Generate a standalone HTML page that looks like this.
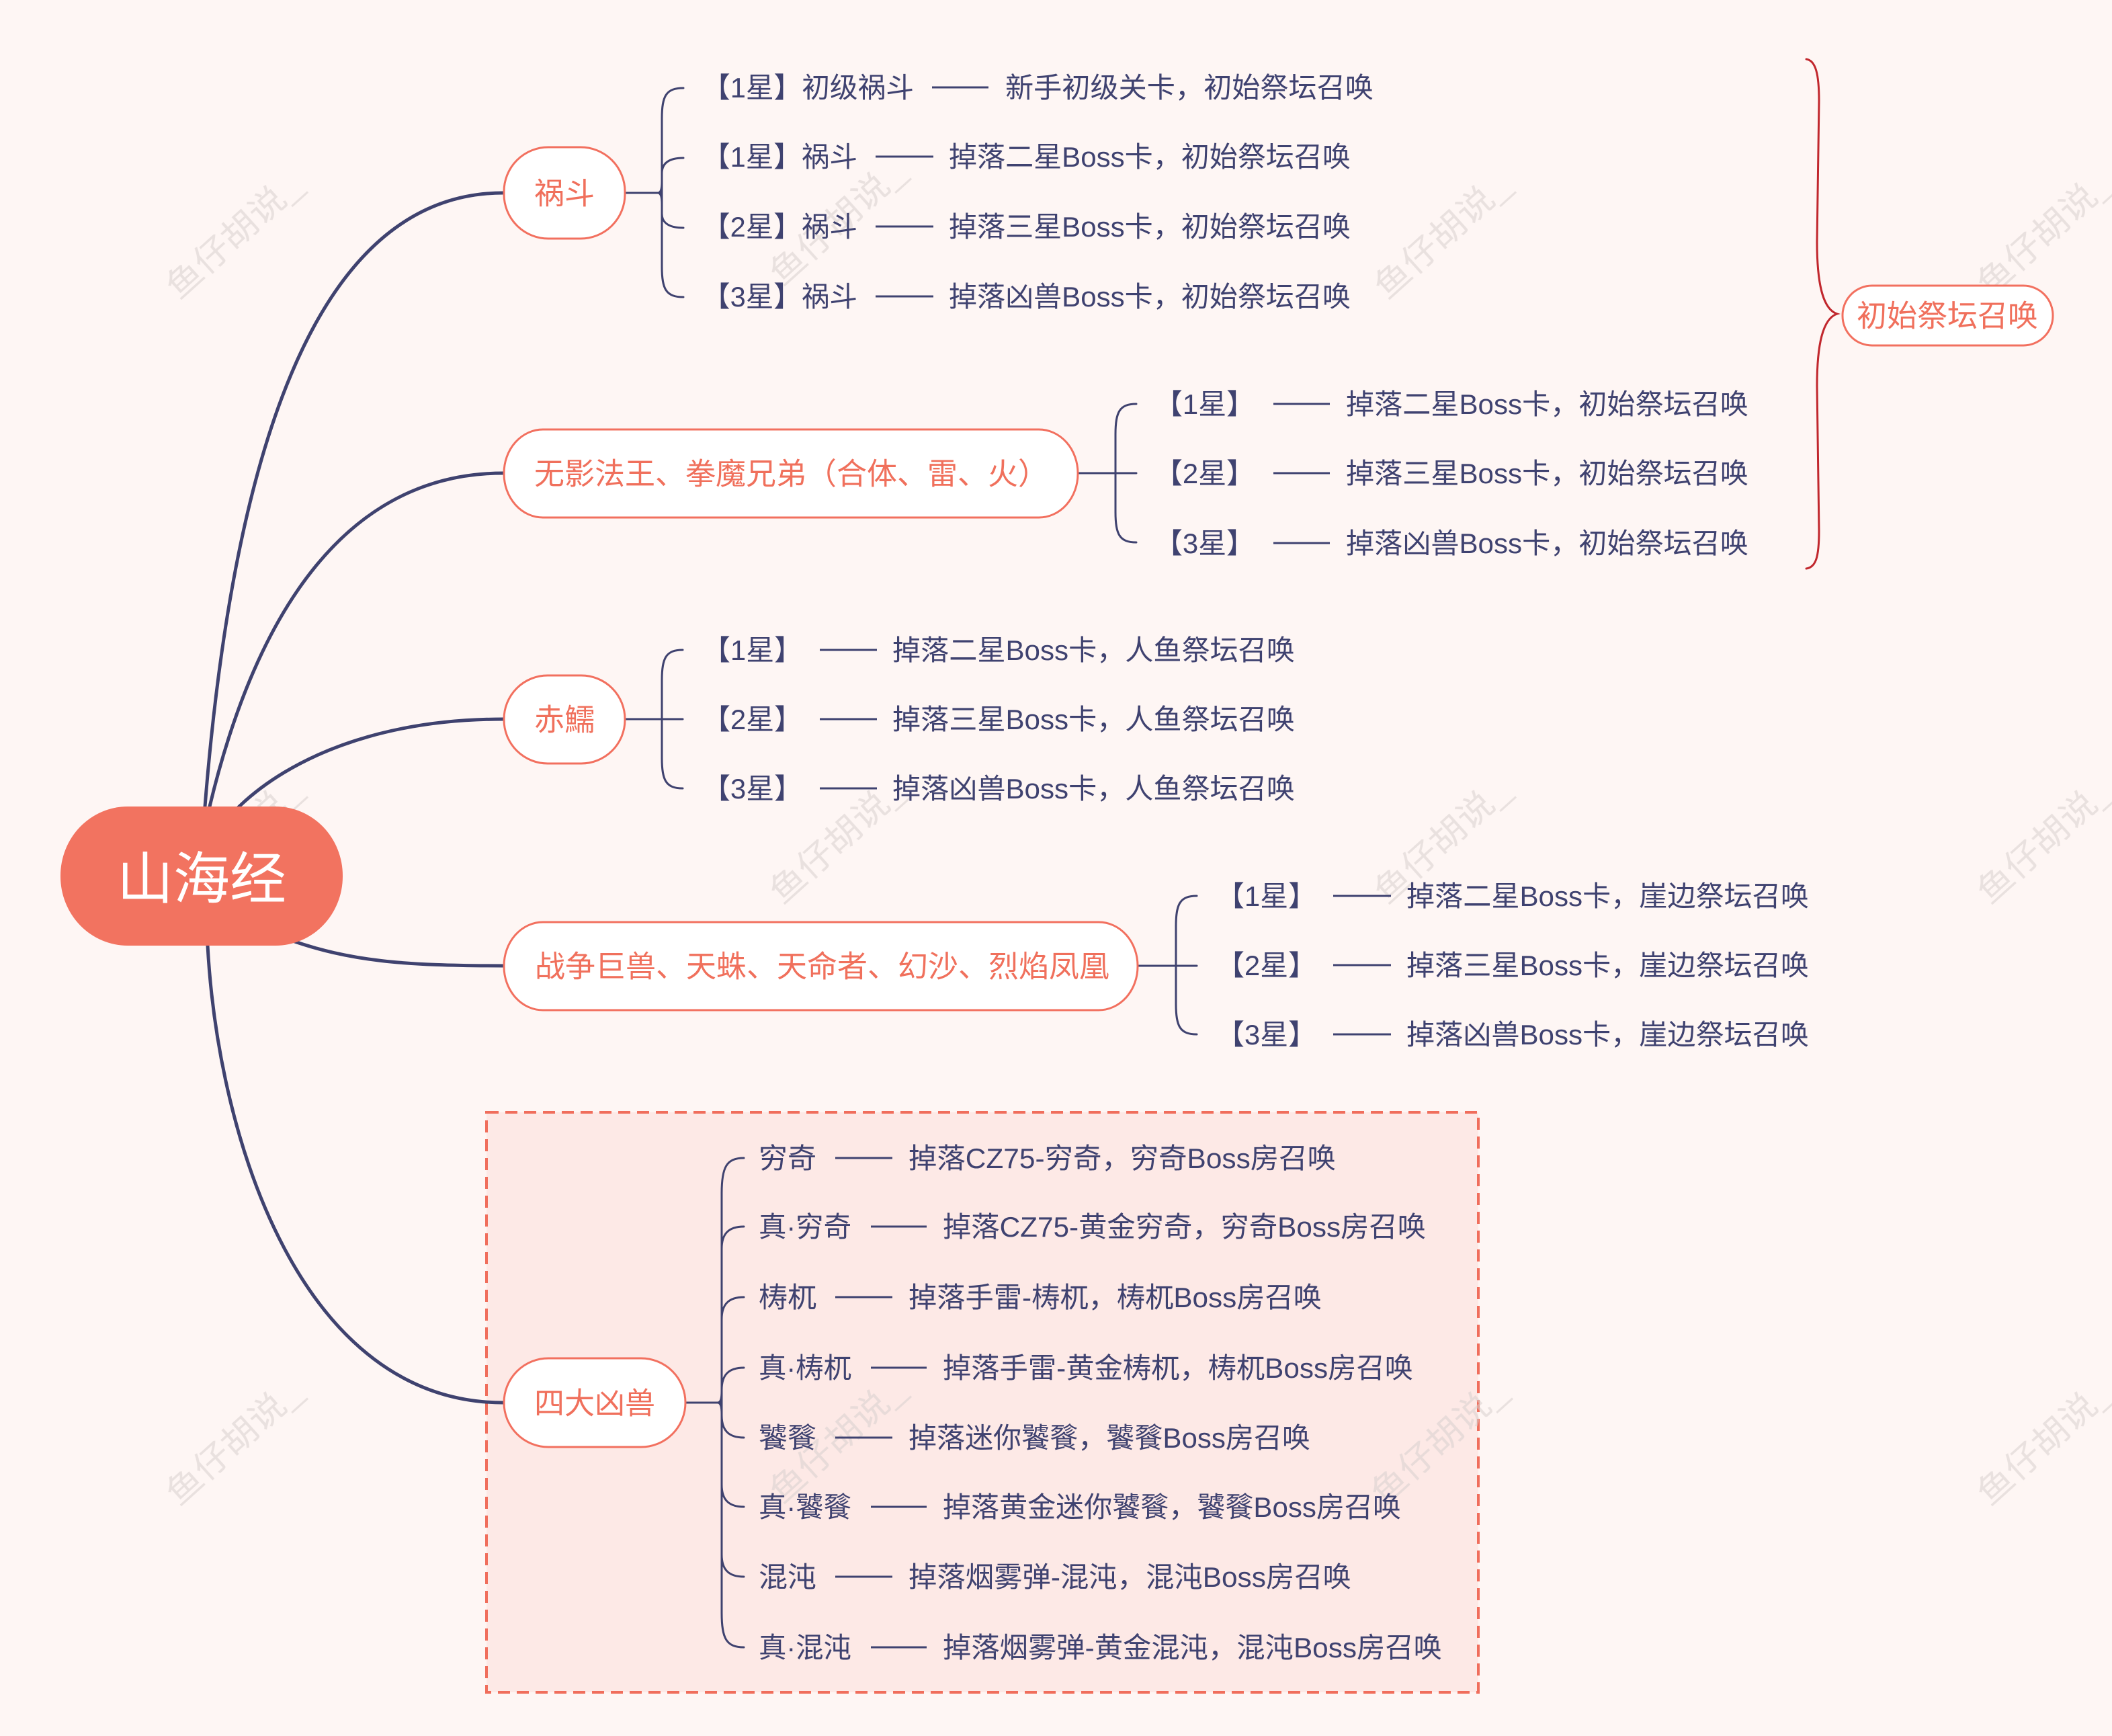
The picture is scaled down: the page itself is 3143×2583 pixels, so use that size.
<!DOCTYPE html>
<html>
<head>
<meta charset="utf-8">
<style>
  html,body{margin:0;padding:0;background:#fef6f4;}
  svg{display:block;}
  text{font-family:"Liberation Sans","Noto Sans CJK SC",sans-serif;}
</style>
</head>
<body>
<svg xmlns="http://www.w3.org/2000/svg" width="3143" height="2583" viewBox="0 0 3143 2583">
  <rect x="0" y="0" width="3143" height="2583" fill="#fef6f4"/>

  <!-- dashed highlight box -->
  <rect x="724" y="1655" width="1476" height="863" fill="#fde9e6" stroke="#f06e5c" stroke-width="4" stroke-dasharray="18 10"/>

  <!-- watermarks -->
  <g fill="#d8cfce" opacity="0.55" font-size="50" text-anchor="middle">
    <text x="347" y="368" transform="rotate(-42 347 350)" textLength="250" lengthAdjust="spacingAndGlyphs">鱼仔胡说_</text>
    <text x="1245" y="348" transform="rotate(-42 1245 330)" textLength="250" lengthAdjust="spacingAndGlyphs">鱼仔胡说_</text>
    <text x="2145" y="368" transform="rotate(-42 2145 350)" textLength="250" lengthAdjust="spacingAndGlyphs">鱼仔胡说_</text>
    <text x="3042" y="364" transform="rotate(-42 3042 346)" textLength="250" lengthAdjust="spacingAndGlyphs">鱼仔胡说_</text>
    <text x="347" y="1268" transform="rotate(-42 347 1250)" textLength="250" lengthAdjust="spacingAndGlyphs">鱼仔胡说_</text>
    <text x="1245" y="1268" transform="rotate(-42 1245 1250)" textLength="250" lengthAdjust="spacingAndGlyphs">鱼仔胡说_</text>
    <text x="2145" y="1268" transform="rotate(-42 2145 1250)" textLength="250" lengthAdjust="spacingAndGlyphs">鱼仔胡说_</text>
    <text x="3042" y="1268" transform="rotate(-42 3042 1250)" textLength="250" lengthAdjust="spacingAndGlyphs">鱼仔胡说_</text>
    <text x="347" y="2163" transform="rotate(-42 347 2145)" textLength="250" lengthAdjust="spacingAndGlyphs">鱼仔胡说_</text>
    <text x="1245" y="2160" transform="rotate(-42 1245 2142)" textLength="250" lengthAdjust="spacingAndGlyphs">鱼仔胡说_</text>
    <text x="2140" y="2163" transform="rotate(-42 2140 2145)" textLength="250" lengthAdjust="spacingAndGlyphs">鱼仔胡说_</text>
    <text x="3042" y="2163" transform="rotate(-42 3042 2145)" textLength="250" lengthAdjust="spacingAndGlyphs">鱼仔胡说_</text>
  </g>

  <!-- main branch curves -->
  <g fill="none" stroke="#3f426f" stroke-width="5" stroke-linecap="round">
    <path d="M303,1240 L305,1200 C345,700 460,287 749,287"/>
    <path d="M308,1240 L312,1200 C360,1000 470,704 749,704"/>
    <path d="M330,1225 L358,1198 C430,1130 560,1070 749,1070"/>
    <path d="M400,1385 L430,1398 C520,1430 600,1437 749,1437"/>
    <path d="M308,1380 L309,1407 C325,1700 450,2087 749,2087"/>
  </g>

  <!-- braces -->
  <g fill="none" stroke="#3f426f" stroke-width="3" stroke-linecap="round">
    <!-- 祸斗 -->
    <path d="M930,287 L983,287"/>
    <path d="M1017,131 C991,131 985,143 985,176 L985,397 C985,430 991,442 1017,442"/>
    <path d="M985,258 C985,243 995,235 1017,235"/>
    <path d="M985,318 C985,331 995,339 1017,339"/>
    <path d="M985,270 Q985,287 979,287 Q985,287 985,304"/>
    <!-- 无影 -->
    <path d="M1604,704 L1691,704"/>
    <path d="M1691,601 C1666,601 1660,613 1660,646 L1660,762 C1660,795 1666,807 1691,807"/>
    <!-- 赤鱬 -->
    <path d="M930,1070 L1016,1070"/>
    <path d="M1016,967 C991,967 985,979 985,1012 L985,1128 C985,1161 991,1173 1016,1173"/>
    <!-- 战争 -->
    <path d="M1693,1437 L1781,1437"/>
    <path d="M1781,1333 C1756,1333 1750,1345 1750,1378 L1750,1494 C1750,1527 1756,1539 1781,1539"/>
    <!-- 四大凶兽 -->
    <path d="M1020,2087 L1072,2087"/>
    <path d="M1107,1723 C1081,1723 1074,1737 1074,1775 L1074,2400 C1074,2438 1081,2451 1107,2451"/>
    <path d="M1074,1858 C1074,1836 1084,1825 1107,1825"/>
    <path d="M1074,1963 C1074,1941 1084,1930 1107,1930"/>
    <path d="M1074,2068 C1074,2046 1084,2035 1107,2035"/>
    <path d="M1074,2106 C1074,2128 1084,2139 1107,2139"/>
    <path d="M1074,2209 C1074,2231 1084,2242 1107,2242"/>
    <path d="M1074,2313 C1074,2335 1084,2346 1107,2346"/>
    <path d="M1074,2070 Q1074,2087 1068,2087 Q1074,2087 1074,2104"/>
  </g>

  <!-- red summary brace -->
  <path d="M2688,88 C2702,90 2707,110 2707,150 L2704,360 C2704,420 2712,460 2734,467 C2712,474 2704,514 2704,574 L2707,790 C2707,830 2702,844 2688,846" fill="none" stroke="#c1272d" stroke-width="3" stroke-linecap="round"/>

  <!-- nodes -->
  <rect x="90" y="1200" width="420" height="207" rx="100" ry="103" fill="#f27360"/>
  <g fill="#ffffff" stroke="#f2705f" stroke-width="3">
    <rect x="750" y="219" width="180" height="136" rx="66" ry="66"/>
    <rect x="750" y="639" width="854" height="131" rx="58" ry="65"/>
    <rect x="750" y="1005" width="180" height="131" rx="65" ry="65"/>
    <rect x="750" y="1372" width="943" height="131" rx="58" ry="65"/>
    <rect x="750" y="2021" width="270" height="132" rx="66" ry="66"/>
    <rect x="2742" y="425" width="313" height="89" rx="44" ry="44"/>
  </g>

  <!-- node text -->
  <text x="300" y="1337" font-size="84" fill="#ffffff" text-anchor="middle" textLength="252" lengthAdjust="spacingAndGlyphs">山海经</text>
  <g fill="#f0705c" font-size="45">
    <text x="840" y="303.5" text-anchor="middle" textLength="90" lengthAdjust="spacingAndGlyphs">祸斗</text>
    <text x="795" y="720.5" textLength="765" lengthAdjust="spacingAndGlyphs">无影法王、拳魔兄弟（合体、雷、火）</text>
    <text x="840" y="1086.5" text-anchor="middle" textLength="90" lengthAdjust="spacingAndGlyphs">赤鱬</text>
    <text x="796" y="1453.5" textLength="855" lengthAdjust="spacingAndGlyphs">战争巨兽、天蛛、天命者、幻沙、烈焰凤凰</text>
    <text x="885" y="2103.5" text-anchor="middle" textLength="180" lengthAdjust="spacingAndGlyphs">四大凶兽</text>
    <text x="2763" y="485.5" textLength="270" lengthAdjust="spacingAndGlyphs">初始祭坛召唤</text>
  </g>

  <!-- leaf dashes -->
  <g stroke="#3f4270" stroke-width="3">
    <line x1="1387" y1="130" x2="1471" y2="130"/>
    <line x1="1303" y1="233" x2="1389" y2="233"/>
    <line x1="1303" y1="337" x2="1389" y2="337"/>
    <line x1="1303" y1="441" x2="1389" y2="441"/>

    <line x1="1895" y1="601" x2="1979" y2="601"/>
    <line x1="1895" y1="704" x2="1979" y2="704"/>
    <line x1="1895" y1="808" x2="1979" y2="808"/>

    <line x1="1220" y1="967" x2="1305" y2="967"/>
    <line x1="1220" y1="1070" x2="1305" y2="1070"/>
    <line x1="1220" y1="1173" x2="1305" y2="1173"/>

    <line x1="1984" y1="1333" x2="2070" y2="1333"/>
    <line x1="1984" y1="1436" x2="2070" y2="1436"/>
    <line x1="1984" y1="1539" x2="2070" y2="1539"/>

    <line x1="1243" y1="1723" x2="1328" y2="1723"/>
    <line x1="1296" y1="1825" x2="1379" y2="1825"/>
    <line x1="1243" y1="1930" x2="1328" y2="1930"/>
    <line x1="1296" y1="2035" x2="1379" y2="2035"/>
    <line x1="1243" y1="2139" x2="1328" y2="2139"/>
    <line x1="1296" y1="2242" x2="1379" y2="2242"/>
    <line x1="1243" y1="2346" x2="1328" y2="2346"/>
    <line x1="1296" y1="2451" x2="1379" y2="2451"/>
  </g>

  <!-- leaf text -->
  <g fill="#3f4270" font-size="42">
    <!-- 祸斗 -->
    <text x="1045" y="145" textLength="315" lengthAdjust="spacingAndGlyphs">【1星】初级祸斗</text>
    <text x="1496" y="145" textLength="548" lengthAdjust="spacingAndGlyphs">新手初级关卡，初始祭坛召唤</text>
    <text x="1045" y="248" textLength="231" lengthAdjust="spacingAndGlyphs">【1星】祸斗</text>
    <text x="1412" y="248" textLength="598" lengthAdjust="spacingAndGlyphs">掉落二星Boss卡，初始祭坛召唤</text>
    <text x="1045" y="352" textLength="231" lengthAdjust="spacingAndGlyphs">【2星】祸斗</text>
    <text x="1412" y="352" textLength="598" lengthAdjust="spacingAndGlyphs">掉落三星Boss卡，初始祭坛召唤</text>
    <text x="1045" y="456" textLength="231" lengthAdjust="spacingAndGlyphs">【3星】祸斗</text>
    <text x="1412" y="456" textLength="598" lengthAdjust="spacingAndGlyphs">掉落凶兽Boss卡，初始祭坛召唤</text>

    <!-- 无影 -->
    <text x="1718" y="616" textLength="149" lengthAdjust="spacingAndGlyphs">【1星】</text>
    <text x="2003" y="616" textLength="599" lengthAdjust="spacingAndGlyphs">掉落二星Boss卡，初始祭坛召唤</text>
    <text x="1718" y="719" textLength="149" lengthAdjust="spacingAndGlyphs">【2星】</text>
    <text x="2003" y="719" textLength="599" lengthAdjust="spacingAndGlyphs">掉落三星Boss卡，初始祭坛召唤</text>
    <text x="1718" y="823" textLength="149" lengthAdjust="spacingAndGlyphs">【3星】</text>
    <text x="2003" y="823" textLength="599" lengthAdjust="spacingAndGlyphs">掉落凶兽Boss卡，初始祭坛召唤</text>

    <!-- 赤鱬 -->
    <text x="1045" y="982" textLength="149" lengthAdjust="spacingAndGlyphs">【1星】</text>
    <text x="1328" y="982" textLength="599" lengthAdjust="spacingAndGlyphs">掉落二星Boss卡，人鱼祭坛召唤</text>
    <text x="1045" y="1085" textLength="149" lengthAdjust="spacingAndGlyphs">【2星】</text>
    <text x="1328" y="1085" textLength="599" lengthAdjust="spacingAndGlyphs">掉落三星Boss卡，人鱼祭坛召唤</text>
    <text x="1045" y="1188" textLength="149" lengthAdjust="spacingAndGlyphs">【3星】</text>
    <text x="1328" y="1188" textLength="599" lengthAdjust="spacingAndGlyphs">掉落凶兽Boss卡，人鱼祭坛召唤</text>

    <!-- 战争 -->
    <text x="1810" y="1348" textLength="149" lengthAdjust="spacingAndGlyphs">【1星】</text>
    <text x="2093" y="1348" textLength="599" lengthAdjust="spacingAndGlyphs">掉落二星Boss卡，崖边祭坛召唤</text>
    <text x="1810" y="1451" textLength="149" lengthAdjust="spacingAndGlyphs">【2星】</text>
    <text x="2093" y="1451" textLength="599" lengthAdjust="spacingAndGlyphs">掉落三星Boss卡，崖边祭坛召唤</text>
    <text x="1810" y="1554" textLength="149" lengthAdjust="spacingAndGlyphs">【3星】</text>
    <text x="2093" y="1554" textLength="599" lengthAdjust="spacingAndGlyphs">掉落凶兽Boss卡，崖边祭坛召唤</text>

    <!-- 四大凶兽 -->
    <text x="1129" y="1738" textLength="86" lengthAdjust="spacingAndGlyphs">穷奇</text>
    <text x="1352" y="1738" textLength="636" lengthAdjust="spacingAndGlyphs">掉落CZ75-穷奇，穷奇Boss房召唤</text>
    <text x="1129" y="1840" textLength="138" lengthAdjust="spacingAndGlyphs">真·穷奇</text>
    <text x="1403" y="1840" textLength="719" lengthAdjust="spacingAndGlyphs">掉落CZ75-黄金穷奇，穷奇Boss房召唤</text>
    <text x="1129" y="1945" textLength="86" lengthAdjust="spacingAndGlyphs">梼杌</text>
    <text x="1352" y="1945" textLength="615" lengthAdjust="spacingAndGlyphs">掉落手雷-梼杌，梼杌Boss房召唤</text>
    <text x="1129" y="2050" textLength="138" lengthAdjust="spacingAndGlyphs">真·梼杌</text>
    <text x="1403" y="2050" textLength="700" lengthAdjust="spacingAndGlyphs">掉落手雷-黄金梼杌，梼杌Boss房召唤</text>
    <text x="1129" y="2154" textLength="86" lengthAdjust="spacingAndGlyphs">饕餮</text>
    <text x="1352" y="2154" textLength="598" lengthAdjust="spacingAndGlyphs">掉落迷你饕餮，饕餮Boss房召唤</text>
    <text x="1129" y="2257" textLength="138" lengthAdjust="spacingAndGlyphs">真·饕餮</text>
    <text x="1403" y="2257" textLength="682" lengthAdjust="spacingAndGlyphs">掉落黄金迷你饕餮，饕餮Boss房召唤</text>
    <text x="1129" y="2361" textLength="86" lengthAdjust="spacingAndGlyphs">混沌</text>
    <text x="1352" y="2361" textLength="659" lengthAdjust="spacingAndGlyphs">掉落烟雾弹-混沌，混沌Boss房召唤</text>
    <text x="1129" y="2466" textLength="138" lengthAdjust="spacingAndGlyphs">真·混沌</text>
    <text x="1403" y="2466" textLength="743" lengthAdjust="spacingAndGlyphs">掉落烟雾弹-黄金混沌，混沌Boss房召唤</text>
  </g>
</svg>
</body>
</html>
